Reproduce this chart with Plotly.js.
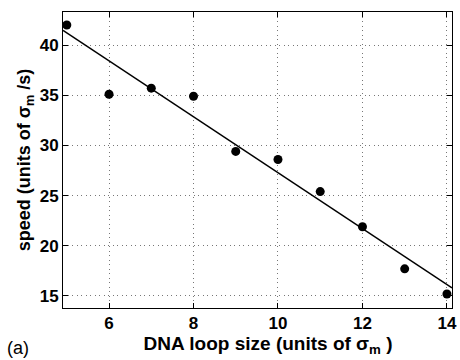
<!DOCTYPE html>
<html>
<head>
<meta charset="utf-8">
<script src="https://cdn.plot.ly/plotly-3.0.1.min.js"></script>
<style>html,body{margin:0;padding:0;background:#fff}#plot{width:460px;height:360px}</style>
</head>
<body>
<div id="plot"></div>
<script>
var loopSize = [5, 6, 7, 8, 9, 10, 11, 12, 13, 14];
var speed = [42.0, 35.1, 35.7, 34.9, 29.4, 28.6, 25.4, 21.9, 17.7, 15.2];
var fitX = [4.91, 14.12];
var fitY = [41.45, 15.8];
var xTicks = [6, 8, 10, 12, 14];
var yTicks = [15, 20, 25, 30, 35, 40];

var fam = 'Liberation Sans, Arial, sans-serif';
var font = {family: fam, color: '#000'};

var data = [
  {x: fitX, y: fitY, mode: 'lines', line: {color: '#000', width: 1.5}, hoverinfo: 'skip'},
  {x: loopSize, y: speed, mode: 'markers', marker: {color: '#000', size: 9}}
];

var axisCommon = {
  showline: true, linecolor: '#000', linewidth: 1, mirror: 'ticks',
  ticks: 'inside', ticklen: 5, tickcolor: '#000', tickwidth: 1,
  showgrid: true, gridcolor: '#777', griddash: '1px,3.5px', gridwidth: 1,
  zeroline: false,
  tickfont: {family: fam, size: 17, color: '#000', weight: 'bold'}
};

var layout = {
  width: 460, height: 360,
  margin: {l: 63, r: 8, t: 12, b: 52},
  paper_bgcolor: '#fff', plot_bgcolor: '#fff',
  showlegend: false,
  font: font,
  xaxis: Object.assign({}, axisCommon, {
    range: [4.91, 14.12], tickvals: xTicks,
    title: {text: '&nbsp;&nbsp;&nbsp;&nbsp;DNA loop size (units of σ<sub>m</sub> )', font: {family: fam, size: 19, color: '#000', weight: 'bold'}, standoff: 4}
  }),
  yaxis: Object.assign({}, axisCommon, {
    range: [13.8, 43.29], tickvals: yTicks,
    title: {text: 'speed (units of σ<sub>m</sub> /s)', font: {family: fam, size: 18, color: '#000', weight: 'bold'}, standoff: 4}
  }),
  annotations: [{
    text: '(a)', xref: 'paper', yref: 'paper', x: -0.149, y: -0.135,
    xanchor: 'left', yanchor: 'middle', showarrow: false,
    font: {family: fam, size: 18, color: '#000'}
  }]
};

Plotly.newPlot('plot', data, layout, {staticPlot: true, displayModeBar: false});
</script>
</body>
</html>
